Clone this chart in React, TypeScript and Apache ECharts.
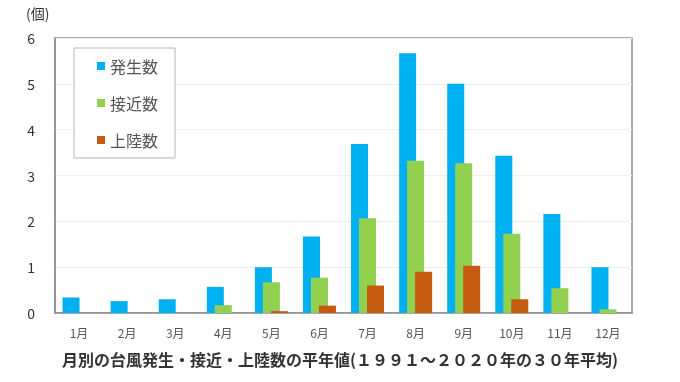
import React, { useEffect, useRef } from "react";
import * as echarts from "echarts";

const months = ["1月", "2月", "3月", "4月", "5月", "6月", "7月", "8月", "9月", "10月", "11月", "12月"];
const hassei = [0.34, 0.26, 0.3, 0.57, 1.0, 1.67, 3.69, 5.67, 5.0, 3.43, 2.16, 1.0];
const sekkin = [0, 0, 0, 0.17, 0.67, 0.77, 2.07, 3.32, 3.27, 1.73, 0.54, 0.08];
const joriku = [0, 0, 0, 0, 0.04, 0.16, 0.6, 0.9, 1.03, 0.3, 0, 0];
const seriesNames = ["発生数", "接近数", "上陸数"];
const colors = ["#00B0F0", "#92D050", "#C55A11"];

export default function App() {
  const ref = useRef<HTMLDivElement>(null);
  useEffect(() => {
    const chart = echarts.init(ref.current!, null, { renderer: "svg" });
    const font = "'Noto Sans CJK JP', 'Noto Sans', sans-serif";
    const data = [hassei, sekkin, joriku];
    chart.setOption({
      animation: false,
      textStyle: { fontFamily: font },
      grid: {
        left: 55, right: 48, top: 38, bottom: 69,
        show: true, borderColor: "#8f8f8f", borderWidth: 1.5,
      },
      legend: {
        left: 74, top: 48, orient: "vertical",
        data: seriesNames,
        icon: "rect", itemWidth: 8, itemHeight: 8, itemGap: 21,
        padding: [10, 17, 10, 23],
        borderColor: "#b5b5b5", borderWidth: 1, backgroundColor: "#fff",
        textStyle: { fontSize: 16, color: "#555", fontFamily: font },
      },
      xAxis: {
        type: "category", data: months,
        axisLine: { lineStyle: { color: "#8f8f8f", width: 1.5 } },
        axisTick: { show: false },
        axisLabel: { color: "#555", fontSize: 12, margin: 13, fontFamily: font },
      },
      yAxis: {
        type: "value", min: 0, max: 6, interval: 1,
        axisLine: { show: true, lineStyle: { color: "#8f8f8f", width: 1.5 } },
        splitLine: { lineStyle: { color: "#efefef" } },
        axisLabel: { color: "#333", fontSize: 14, margin: 20, fontFamily: font },
      },
      graphic: [
        { type: "text", left: 26, top: 6, style: { text: "(個)", fontSize: 14, fill: "#333", fontFamily: font } },
        {
          type: "text", left: "center", top: 351,
          style: {
            text: "月別の台風発生・接近・上陸数の平年値(１９９１～２０２０年の３０年平均)",
            fontSize: 16, fontWeight: "bold", fill: "#333", fontFamily: font,
          },
        },
      ],
      series: seriesNames.map((n, i) => ({
        name: n, type: "bar", data: data[i], barWidth: 17, barGap: "-53%",
        itemStyle: { color: colors[i] },
      })),
    });
    return () => chart.dispose();
  }, []);
  return <div ref={ref} style={{ position: "fixed", left: 0, top: 0, width: 680, height: 382 }} />;
}
